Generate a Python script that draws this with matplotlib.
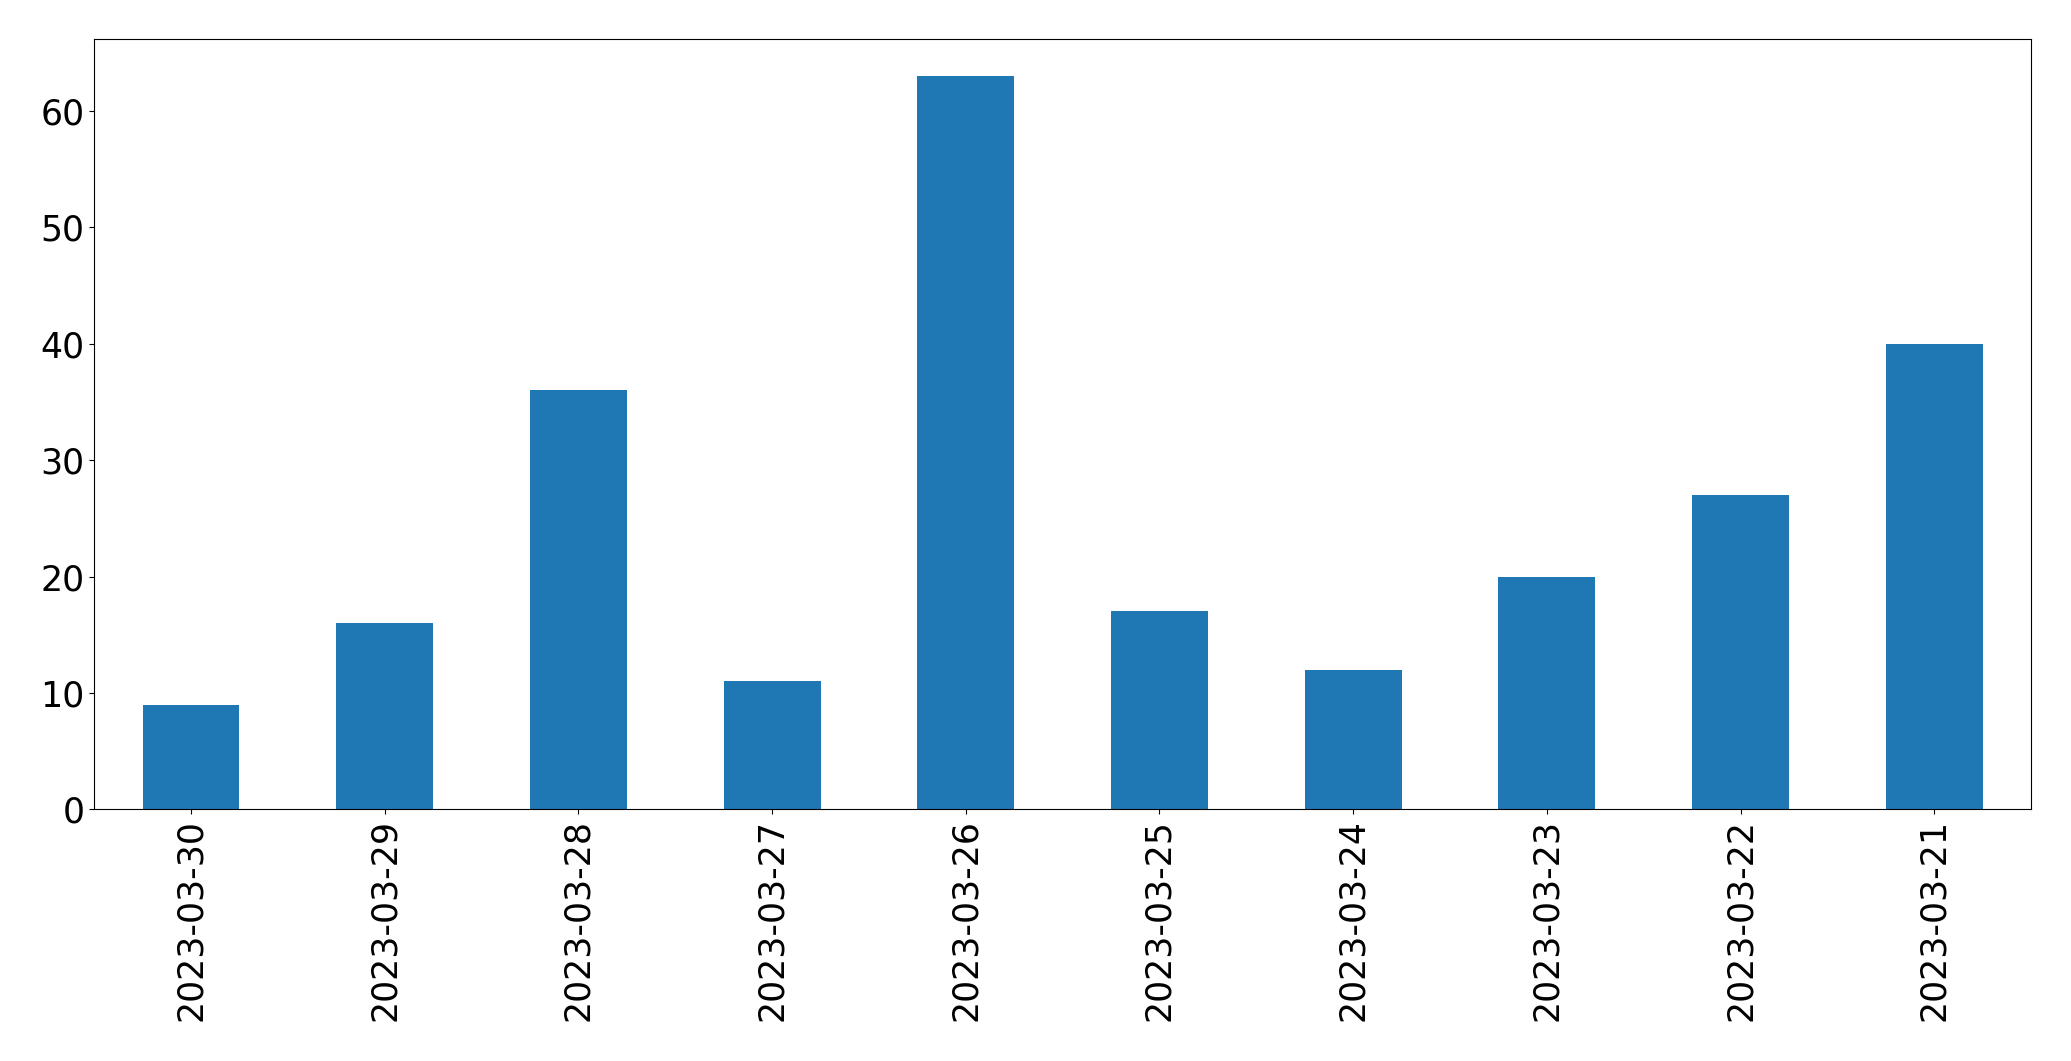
import matplotlib
matplotlib.use('Agg')
import matplotlib.pyplot as plt
import numpy as np

dates = ['2023-03-30', '2023-03-29', '2023-03-28', '2023-03-27', '2023-03-26',
         '2023-03-25', '2023-03-24', '2023-03-23', '2023-03-22', '2023-03-21']
counts = [9, 16, 36, 11, 63, 17, 12, 20, 27, 40]

fig = plt.figure(figsize=(20.71, 10.61), dpi=100)
ax = fig.add_axes([0.0455, 0.2372, 0.9352, 0.7258])

x = np.arange(len(dates))
ax.bar(x, counts, width=0.5, color='#1f77b4')
ax.set_xlim(-0.5, len(dates) - 0.5)
ax.set_xticks(x)
ax.set_xticklabels(dates, rotation=90)
ax.tick_params(axis='both', labelsize=25)

fig.savefig('out.png', dpi=100)
